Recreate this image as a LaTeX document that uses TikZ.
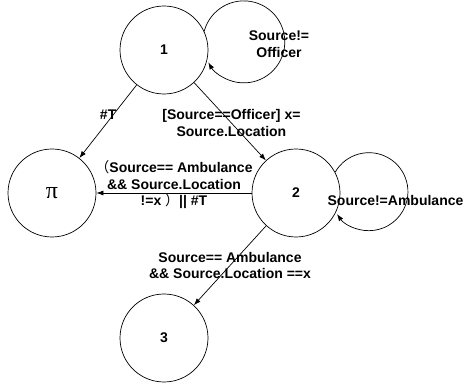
\documentclass[tikz,border=0pt]{standalone}
\usepackage{fontspec}
\setsansfont{Liberation Sans}
\newfontfamily\greekfont{Liberation Serif}
\newfontfamily\cjk{Noto Sans CJK SC}
\usetikzlibrary{positioning,arrows.meta}

\begin{document}
\begin{tikzpicture}[x=1pt,y=1pt,on grid,line width=0.7pt,
                    >={Latex[length=7pt,width=5pt]},
                    main node/.style={circle,draw,fill=white,minimum size=88pt,inner sep=0pt,
                                      font=\sffamily\bfseries\fontsize{14}{16.5}\selectfont},
                    guard node/.style={font=\sffamily\bfseries\fontsize{14}{16.5}\selectfont,
                                       align=center,inner sep=1pt}]
  \useasboundingbox (0,0) rectangle (464,386);

  \node[main node] (1) at (164,336) {1};
  \node[main node] (pi) [below left=143pt and 112pt of 1] {\greekfont\mdseries\fontsize{24}{24}\selectfont π};
  \node[main node] (2) [below right=143pt and 132pt of 1] {2};
  \node[main node] (3) [below left=145pt and 132pt of 2] {3};

  \path[->,every node/.style={guard node}]
    (1) edge node [pos=0.41,xshift=-5pt] {\#T} (pi)
    (1) edge node [pos=0.52] {[Source==Officer] x=\\Source.Location} (2)
    (2) edge node [midway,yshift=8pt] {{\cjk\mdseries （}Source== Ambulance\\\&\& Source.Location\\!=x {\cjk\mdseries ）}|| \#T} (pi)
    (2) edge node [midway] {Source== Ambulance\\\&\& Source.Location ==x} (3);

  \draw[->] (1.25) arc[start angle=165,end angle=-150,radius=41pt];
  \draw[->] (2.28) arc[start angle=150,end angle=-145,radius=39pt];

  \node[guard node] (loop1) [above right=6pt and 115pt of 1] {Source!=\\Officer};
  \node[guard node] (loop2) [below right=7pt and 99.5pt of 2] {Source!=Ambulance};
\end{tikzpicture}
\end{document}
